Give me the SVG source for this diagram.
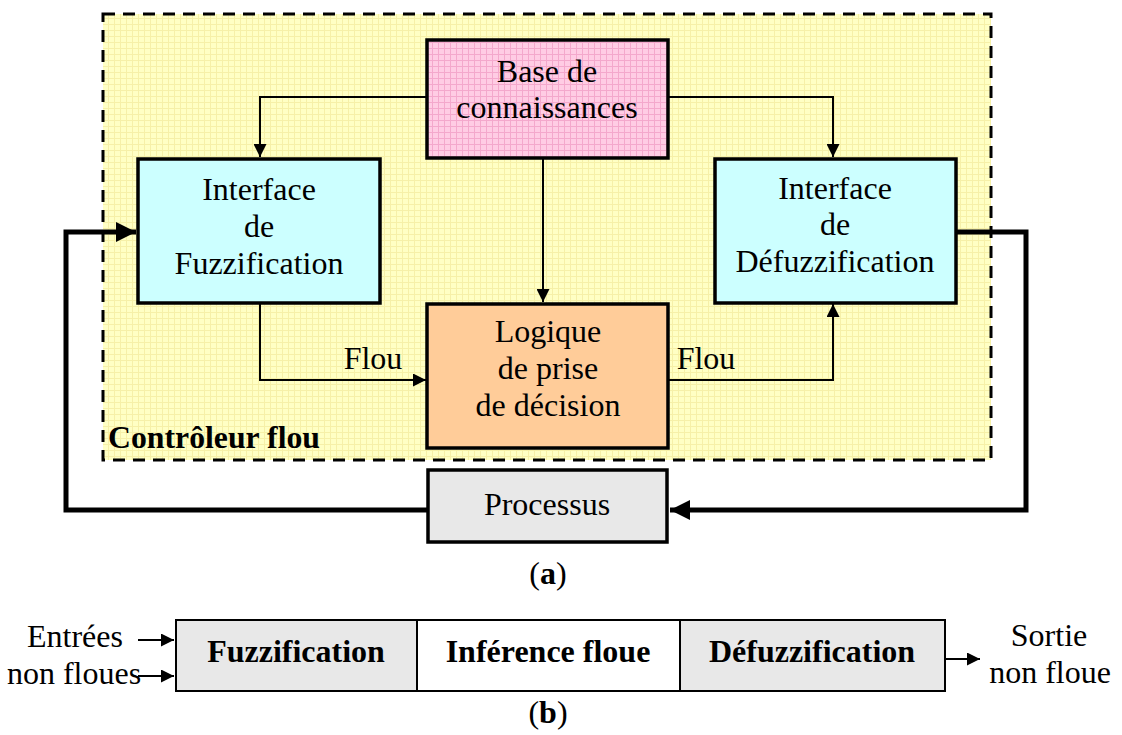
<svg xmlns="http://www.w3.org/2000/svg" width="1122" height="735" viewBox="0 0 1122 735">
<defs>
<style>
.t{font-family:"Liberation Serif","Times New Roman",serif;font-size:32px;fill:#000;text-anchor:middle}
.b{font-family:"Liberation Serif","Times New Roman",serif;font-size:32px;font-weight:bold;fill:#000;text-anchor:middle}
.box{stroke:#000;stroke-width:3.5}
.thin{fill:none;stroke:#000;stroke-width:2}
.thick{fill:none;stroke:#000;stroke-width:5}
</style>
<pattern id="yg" width="6" height="6" patternUnits="userSpaceOnUse">
<rect width="6" height="6" fill="#FFFFC4"/>
<path d="M0 0.5H6M0.5 0V6" stroke="#F6F0A8" stroke-width="1"/>
</pattern>
<pattern id="pg" width="6" height="6" patternUnits="userSpaceOnUse">
<rect width="6" height="6" fill="#FFCCE4"/>
<path d="M0 0.5H6M0.5 0V6" stroke="#F4A8CC" stroke-width="1"/>
</pattern>
<marker id="am" viewBox="0 0 10 10" refX="10" refY="5" markerWidth="13" markerHeight="13" markerUnits="userSpaceOnUse" orient="auto"><path d="M0 0L10 5L0 10z" fill="#000"/></marker>
<marker id="ab" viewBox="0 0 10 10" refX="10" refY="5" markerWidth="4" markerHeight="4" orient="auto"><path d="M0 0L10 5L0 10z" fill="#000"/></marker>
</defs>
<rect width="1122" height="735" fill="#fff"/>

<g id="controleur">
<rect x="103" y="14" width="888" height="446" fill="url(#yg)" stroke="#000" stroke-width="3" stroke-dasharray="12 8"/>
<text x="108" y="448" font-family="Liberation Serif,Times New Roman,serif" font-size="31" font-weight="bold" textLength="212" lengthAdjust="spacingAndGlyphs">Contrôleur flou</text>
</g>

<g id="connectors">
<path class="thin" d="M427 97H260V157" marker-end="url(#am)"/>
<path class="thin" d="M668 97H833V157" marker-end="url(#am)"/>
<path class="thin" d="M543 158V302" marker-end="url(#am)"/>
<path class="thin" d="M260 303V380H426" marker-end="url(#am)"/>
<path class="thin" d="M668 380H833V304" marker-end="url(#am)"/>
<path class="thick" d="M956 232H1026V510H670" marker-end="url(#ab)"/>
<path class="thick" d="M427 510H66V232H136" marker-end="url(#ab)"/>
<text x="373" y="369" class="t" font-size="29">Flou</text>
<text x="706" y="369" class="t" font-size="29">Flou</text>
<path class="thin" d="M138 640H174" marker-end="url(#am)"/>
<path class="thin" d="M138 676H174" marker-end="url(#am)"/>
<path class="thin" d="M945 659H980" marker-end="url(#am)"/>
</g>

<g id="base">
<rect class="box" x="427" y="40" width="241" height="118" fill="url(#pg)"/>
<text class="t" x="547" y="82">Base de</text>
<text class="t" x="547" y="118">connaissances</text>
</g>

<g id="fuzz">
<rect class="box" x="138" y="159" width="242" height="144" fill="#CCFFFF"/>
<text class="t" x="259" y="200">Interface</text>
<text class="t" x="259" y="237">de</text>
<text class="t" x="259" y="274">Fuzzification</text>
</g>

<g id="defuzz">
<rect class="box" x="715" y="159" width="241" height="144" fill="#CCFFFF"/>
<text class="t" x="835" y="199">Interface</text>
<text class="t" x="835" y="235">de</text>
<text class="t" x="835" y="272">Défuzzification</text>
</g>

<g id="logique">
<rect class="box" x="427" y="304" width="241" height="144" fill="#FFCC99"/>
<text class="t" x="548" y="342">Logique</text>
<text class="t" x="548" y="379">de prise</text>
<text class="t" x="548" y="416">de décision</text>
</g>

<g id="processus">
<rect class="box" x="428" y="470" width="239" height="72" fill="#E8E8E8"/>
<text class="t" x="547" y="515">Processus</text>
</g>

<text class="t" x="548" y="584" font-size="31">(<tspan font-weight="bold">a</tspan>)</text>

<g id="b-fuzz">
<rect x="176" y="620" width="241" height="71" fill="#E8E8E8" stroke="#000" stroke-width="2"/>
<text class="b" x="296" y="662">Fuzzification</text>
</g>
<g id="b-inf">
<rect x="417" y="620" width="263" height="71" fill="#fff" stroke="#000" stroke-width="2"/>
<text class="b" x="548" y="662">Inférence floue</text>
</g>
<g id="b-defuzz">
<rect x="680" y="620" width="265" height="71" fill="#E8E8E8" stroke="#000" stroke-width="2"/>
<text class="b" x="812" y="662">Défuzzification</text>
</g>

<text class="t" x="75" y="647" font-size="31">Entrées</text>
<text class="t" x="74" y="684" font-size="31">non floues</text>
<text class="t" x="1049" y="646" font-size="31">Sortie</text>
<text class="t" x="1050" y="683" font-size="31">non floue</text>

<text class="t" x="548" y="723" font-size="31">(<tspan font-weight="bold">b</tspan>)</text>
</svg>
